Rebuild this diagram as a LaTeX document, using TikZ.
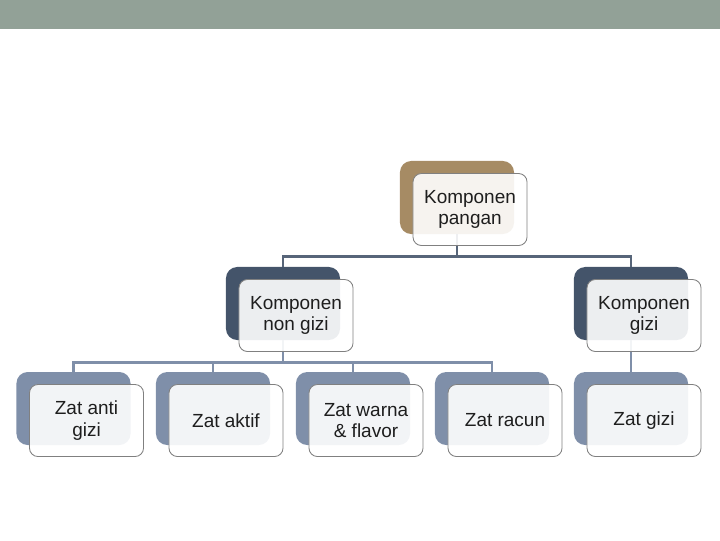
\documentclass[tikz,border=0pt]{standalone}
\usepackage{fontspec}
\setmainfont{Liberation Sans}
\usetikzlibrary{positioning}
\definecolor{barcol}{RGB}{146,161,151}
\definecolor{tancol}{RGB}{166,139,100}
\definecolor{slatecol}{RGB}{68,84,106}
\definecolor{bluegraycol}{RGB}{127,143,169}
\definecolor{edgecol}{RGB}{128,128,128}
\definecolor{txtcol}{RGB}{30,30,30}

\tikzset{
  backbox/.style={draw=none, rounded corners=8pt, minimum width=2.85cm, minimum height=1.825cm},
  frontbox/.style={draw=edgecol, line width=0.6pt, fill=white, fill opacity=0.9, text opacity=1,
    rounded corners=6pt, minimum width=2.85cm, minimum height=1.8cm, align=center,
    text=txtcol, font=\fontsize{13.5}{15.5}\selectfont},
  linetop/.style={draw=slatecol!90!white, line width=2pt},
  linelow/.style={draw=bluegraycol, line width=2pt}
}

\begin{document}
\begin{tikzpicture}[x=0.025cm,y=-0.025cm]
\useasboundingbox (0,0) rectangle (720,540);
\fill [barcol] (0,0) rectangle (720,29);

% back boxes
\node [backbox, fill=tancol] (rootb) at (457,197.5) {};
\node [backbox, fill=slatecol] (nongizib) at (283,303.5) {};
\node [backbox, fill=slatecol] (gizib) at (631,303.5) {};
\node [backbox, fill=bluegraycol] (antib) at (73.5,408.5) {};
\node [backbox, fill=bluegraycol] (aktifb) at (213,408.5) {};
\node [backbox, fill=bluegraycol] (warnab) at (353,408.5) {};
\node [backbox, fill=bluegraycol] (racunb) at (492,408.5) {};
\node [backbox, fill=bluegraycol] (zgizib) at (631,408.5) {};

% connectors
\draw [linetop] (rootb.south) -- +(0,22) -| (nongizib.north);
\draw [linetop] (rootb.south) -- +(0,22) -| (gizib.north);
\draw [linelow] (nongizib.south) -- +(0,22) -| (antib.north);
\draw [linelow] (nongizib.south) -- +(0,22) -| (aktifb.north);
\draw [linelow] (nongizib.south) -- +(0,22) -| (warnab.north);
\draw [linelow] (nongizib.south) -- +(0,22) -| (racunb.north);
\draw [linelow] (gizib.south) -- (zgizib.north);

% front boxes
\node [frontbox] (root) at (470,209.5) {Komponen\\pangan};
\node [frontbox] (nongizi) at (296,315.5) {Komponen\\non gizi};
\node [frontbox] (gizi) at (644,315.5) {Komponen\\gizi};
\node [frontbox] (anti) at (86.5,420.5) {Zat anti\\gizi};
\node [frontbox] (aktif) at (226,420.5) {Zat aktif};
\node [frontbox] (warna) at (366,420.5) {Zat warna\\\& flavor};
\node [frontbox] (racun) at (505,420.5) {Zat racun};
\node [frontbox] (zgizi) at (644,420.5) {Zat gizi};
\end{tikzpicture}
\end{document}
